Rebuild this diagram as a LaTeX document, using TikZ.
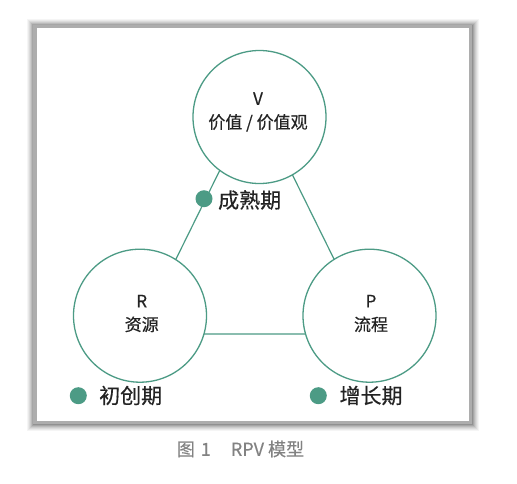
\documentclass[tikz,border=0pt]{standalone}
\usepackage{fontspec}
\setmainfont{Noto Sans CJK SC}[FakeBold=0.4]
\definecolor{tealA}{RGB}{76,155,133}
\definecolor{inkA}{RGB}{35,35,35}
\definecolor{capA}{RGB}{130,130,130}
\begin{document}
\begin{tikzpicture}[x=1pt,y=-1pt,
  ring/.style={circle,draw=tealA,line width=1.3pt,fill=white,minimum size=133pt,inner sep=0pt},
  ringtext/.style={align=center,text=inkA,inner sep=0pt,font=\fontsize{17}{23.5}\selectfont},
  dotmark/.style={circle,fill=tealA,minimum size=17pt,inner sep=0pt},
  stage/.style={anchor=west,font=\fontsize{21}{24}\selectfont,text=inkA,inner sep=0pt},
  link/.style={draw=tealA,line width=1.2pt}]
\useasboundingbox (0,0) rectangle (517,483);
% frame with soft shadow
\foreach \d/\o in {7/0.04,6/0.05,5/0.06,4/0.07,3/0.09,2/0.11,1/0.13}{
  \fill[black,opacity=\o] (34-\d,26-\d) rectangle (471+\d+1,422.5+\d+1);
}
\fill[black!32] (33,25) rectangle (472,424);
\fill[white] (36.5,28) rectangle (469,420.5);
% triangle
\coordinate (tV) at (255,99);
\coordinate (tR) at (139,334);
\coordinate (tP) at (371,334);
\draw[link] (tV) -- (tR) -- (tP) -- cycle;
% circles
\node[ring] (V) at (259.5,117) {};
\node[ring] (R) at (140,315.7) {};
\node[ring] (P) at (369.5,315.7) {};
\node[ringtext] (Vt) at (258,112) {V\\价值 / 价值观};
\node[ringtext] (Rt) at (141.7,313.5) {R\\资源};
\node[ringtext] (Pt) at (371,313.5) {P\\流程};
% stages
\node[dotmark] (d1) at (204,198.7) {};
\node[stage] (s1) at (218,200) {成熟期};
\node[dotmark] (d2) at (78.3,395.7) {};
\node[stage] (s2) at (99,395.5) {初创期};
\node[dotmark] (d3) at (318.3,395.7) {};
\node[stage] (s3) at (339.3,395.5) {增长期};
% caption
\node[anchor=west,inner sep=0pt,text=capA,font=\fontsize{18}{20}\selectfont] (cap) at (176.7,449) {图\hspace{6pt}1\hspace{20pt}RPV 模型};
\end{tikzpicture}
\end{document}
